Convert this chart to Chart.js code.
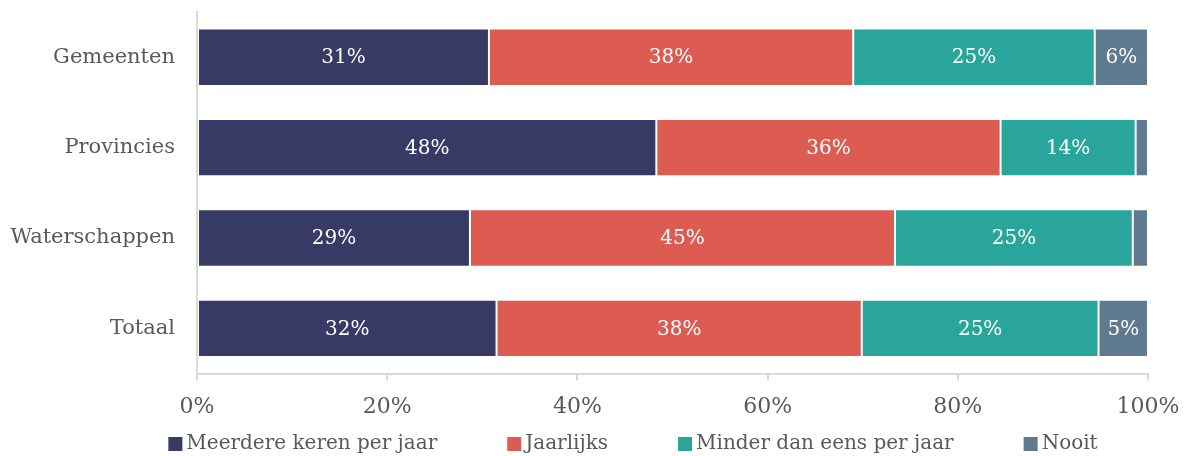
<!doctype html>
<html>
<head>
    <meta charset="utf-8" />
    <title>Frequentie</title>
    <script src="https://cdn.jsdelivr.net/npm/chart.js@4/dist/chart.umd.min.js"></script>
    <style>
        html, body { margin: 0; padding: 0; background: #fff; }
        #wrap { width: 1186px; height: 456px; }
    </style>
</head>
<body>
    <div id="wrap"><canvas id="freqChart"></canvas></div>

<script>
    // data (share of respondents, %)
    var categories = ["Gemeenten", "Provincies", "Waterschappen", "Totaal"];
    var seriesNames = ["Meerdere keren per jaar", "Jaarlijks", "Minder dan eens per jaar", "Nooit"];
    var meerdere = [30.7, 48.3, 28.7, 31.5];
    var jaarlijks = [38.3, 36.2, 44.7, 38.4];
    var minder = [25.4, 14.2, 25.0, 24.9];
    var nooit = [5.6, 1.3, 1.6, 5.2];
    var xTicks = [0, 20, 40, 60, 80, 100];

    var colors = ["#383a66", "#dc5c52", "#2aa59b", "#5f7a8f"];
    var serif = "'DejaVu Serif', serif";
    var textGrey = "#595959";

    var values = [meerdere, jaarlijks, minder, nooit];
    var datasets = values.map(function (v, i) {
        return {
            label: seriesNames[i],
            data: v,
            backgroundColor: colors[i],
            borderColor: "rgba(255,255,255,0.35)",
            borderWidth: 1,
            borderSkipped: false,
            barPercentage: 0.635,
            categoryPercentage: 1
        };
    });

    // percentages inside the bars
    var barLabels = {
        id: 'barLabels',
        afterDatasetsDraw: function (chart) {
            var ctx = chart.ctx;
            ctx.save();
            ctx.font = "20px " + serif;
            ctx.fillStyle = "#fff";
            ctx.textAlign = "center";
            ctx.textBaseline = "middle";
            chart.data.datasets.forEach(function (ds, i) {
                chart.getDatasetMeta(i).data.forEach(function (bar, j) {
                    if (ds.data[j] < 3) return;
                    var cx = (bar.x + bar.base) / 2;
                    ctx.fillText(Math.round(ds.data[j]) + "%", cx, bar.y + 1);
                });
            });
            ctx.restore();
        }
    };

    // legend drawn by hand so the box/text spacing matches
    var bottomLegend = {
        id: 'bottomLegend',
        afterDraw: function (chart) {
            var ctx = chart.ctx;
            ctx.save();
            ctx.font = "20px " + serif;
            ctx.textBaseline = "middle";
            var box = 14, gapText = 4, gapItem = 70, y = 444;
            var widths = chart.data.datasets.map(function (ds) {
                return box + gapText + ctx.measureText(ds.label).width;
            });
            var total = widths.reduce(function (a, b) { return a + b; }, 0) + gapItem * (widths.length - 1);
            var x = 633 - total / 2;
            chart.data.datasets.forEach(function (ds, i) {
                ctx.fillStyle = ds.backgroundColor;
                ctx.fillRect(x, y - box / 2, box, box);
                ctx.fillStyle = textGrey;
                ctx.fillText(ds.label, x + box + gapText, y);
                x += widths[i] + gapItem;
            });
            ctx.restore();
        }
    };

    var ctx = document.getElementById('freqChart').getContext('2d');
    var myChart = new Chart(ctx, {
        type: 'bar',
        data: {
            labels: categories,
            datasets: datasets
        },
        options: {
            indexAxis: 'y',
            responsive: true,
            maintainAspectRatio: false,
            animation: false,
            layout: {
                padding: { top: 12, right: 38, bottom: 23, left: 0 }
            },
            plugins: {
                legend: { display: false },
                tooltip: { enabled: false }
            },
            scales: {
                x: {
                    stacked: true,
                    min: 0,
                    max: 100,
                    afterBuildTicks: function (scale) {
                        scale.ticks = xTicks.map(function (v) { return { value: v }; });
                    },
                    afterFit: function (scale) {
                        scale.paddingLeft = 0;
                        scale.paddingRight = 0;
                    },
                    grid: {
                        display: true,
                        drawOnChartArea: false,
                        drawTicks: true,
                        tickLength: 7,
                        color: "#d9d9d9",
                        lineWidth: 2
                    },
                    border: { display: true, color: "#d9d9d9", width: 2 },
                    ticks: {
                        color: textGrey,
                        font: { family: serif, size: 22 },
                        padding: 13,
                        callback: function (v) { return v + "%"; }
                    }
                },
                y: {
                    stacked: true,
                    afterFit: function (scale) {
                        scale.width = 197;
                        scale.paddingTop = 0;
                        scale.paddingBottom = 0;
                    },
                    grid: { display: false },
                    border: { display: true, color: "#d9d9d9", width: 2 },
                    ticks: {
                        color: textGrey,
                        font: { family: serif, size: 21 },
                        padding: 14
                    }
                }
            }
        },
        plugins: [barLabels, bottomLegend]
    });
</script>
</body>
</html>
